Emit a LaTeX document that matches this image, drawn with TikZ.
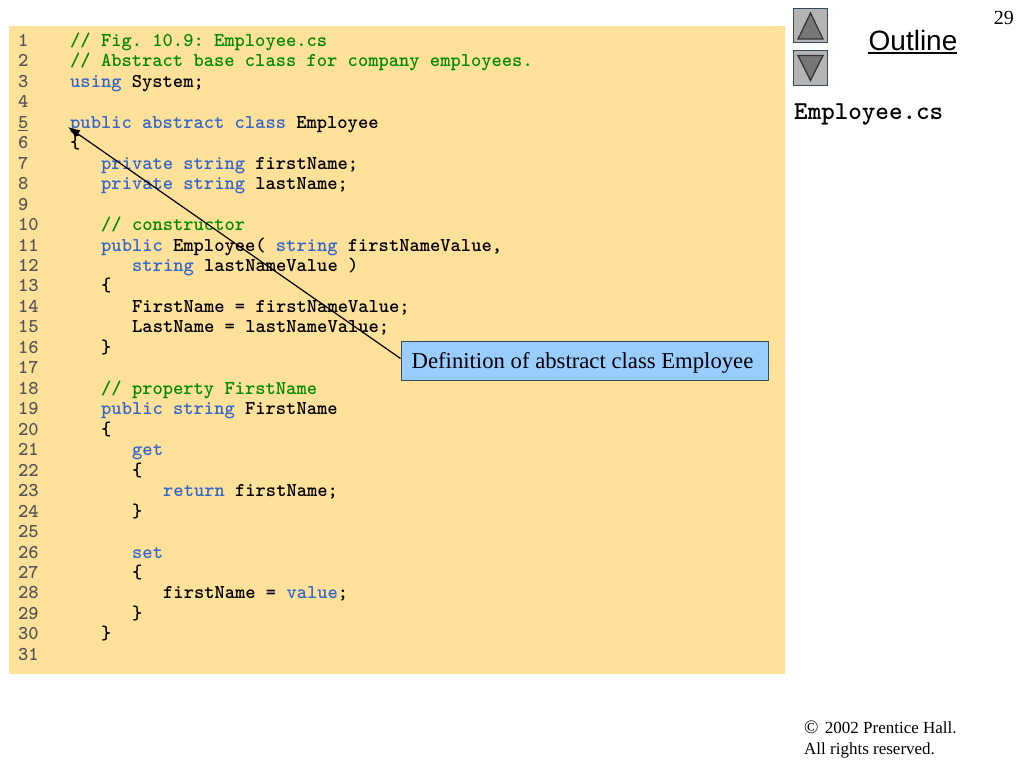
\documentclass[tikz,border=0pt]{standalone}
\usepackage{fontspec}
\usetikzlibrary{arrows.meta}
\setmainfont{Liberation Serif}
\setsansfont{Liberation Sans}
\definecolor{panel}{HTML}{FFE199}
\definecolor{kw}{HTML}{3366CC}
\definecolor{cm}{HTML}{008A00}
\definecolor{num}{HTML}{555555}
\definecolor{call}{HTML}{99CCFF}
\definecolor{btn}{HTML}{B4B4B4}
\definecolor{tri}{HTML}{777777}
\definecolor{edge}{HTML}{3A4A5A}
\newcommand{\K}[1]{\textcolor{kw}{#1}}
\newcommand{\C}[1]{\textcolor{cm}{#1}}
\tikzset{
  x=1pt,y=-1pt,
  code/.style={anchor=base west,inner sep=0pt,font=\fontsize{19.58pt}{20pt}\ttfamily\bfseries,text=black},
  lnum/.style={anchor=base west,inner sep=0pt,font=\fontsize{19.58pt}{20pt}\ttfamily\bfseries,text=num},
  button/.style={fill=btn,draw=edge,line width=1pt},
  triangle/.style={fill=tri,draw=black!80,line width=1.2pt},
  callout/.style={fill=call,draw=edge,line width=1pt,minimum width=367pt,minimum height=39pt,inner sep=0pt,font=\fontsize{22.7pt}{26pt}\selectfont},
}
\newcommand{\ly}[1]{46.3+20.47*(#1-1)}
\begin{document}
\frenchspacing
\begin{tikzpicture}
\useasboundingbox (0,0) rectangle (1024,768);
\fill[white] (0,0) rectangle (1024,768);
\fill[panel] (9,26) rectangle (785,674);
% line numbers
\foreach \n in {1,2,3,4,6,7,8,9,10,11,12,13,14,15,16,17,18,19,20,21,22,23,24,25,26,27,28,29,30,31}{
  \node[lnum] (n\n) at (18,{\ly{\n}}) {\n};
}
\node[lnum] (n5) at (18,{\ly{5}}) {\underline{5}};
% code
\node[code] (c1) at (70,{\ly{1}}) {\C{// Fig. 10.9: Employee.cs}};
\node[code] (c2) at (70,{\ly{2}}) {\C{// Abstract base class for company employees.}};
\node[code] (c3) at (70,{\ly{3}}) {\K{using} System;};
\node[code] (c5) at (70,{\ly{5}}) {\K{public abstract class} Employee};
\node[code] (c6) at (70,{\ly{6}}) {\{};
\node[code] (c7) at (101,{\ly{7}}) {\K{private string} firstName;};
\node[code] (c8) at (101,{\ly{8}}) {\K{private string} lastName;};
\node[code] (c10) at (101,{\ly{10}}) {\C{// constructor}};
\node[code] (c11) at (101,{\ly{11}}) {\K{public} Employee( \K{string} firstNameValue,};
\node[code] (c12) at (132,{\ly{12}}) {\K{string} lastNameValue )};
\node[code] (c13) at (101,{\ly{13}}) {\{};
\node[code] (c14) at (132,{\ly{14}}) {FirstName = firstNameValue;};
\node[code] (c15) at (132,{\ly{15}}) {LastName = lastNameValue;};
\node[code] (c16) at (101,{\ly{16}}) {\}};
\node[code] (c18) at (101,{\ly{18}}) {\C{// property FirstName}};
\node[code] (c19) at (101,{\ly{19}}) {\K{public string} FirstName};
\node[code] (c20) at (101,{\ly{20}}) {\{};
\node[code] (c21) at (132,{\ly{21}}) {\K{get}};
\node[code] (c22) at (132,{\ly{22}}) {\{};
\node[code] (c23) at (163,{\ly{23}}) {\K{return} firstName;};
\node[code] (c24) at (132,{\ly{24}}) {\}};
\node[code] (c26) at (132,{\ly{26}}) {\K{set}};
\node[code] (c27) at (132,{\ly{27}}) {\{};
\node[code] (c28) at (163,{\ly{28}}) {firstName = \K{value};};
\node[code] (c29) at (132,{\ly{29}}) {\}};
\node[code] (c30) at (101,{\ly{30}}) {\}};
% callout
\node[callout,text height=20pt,text depth=4pt] (box) at (584.5,360.5) {Definition of abstract class Employee\kern4pt\relax};
\coordinate (tip) at (68,127);
\draw[line width=1.2pt,-{Latex[length=12pt,width=9pt]}] (box.west) ++(0,-2) -- (tip);
% buttons
\draw[button] (793.5,8.5) rectangle (827.5,42.5);
\draw[triangle] (810.5,13) -- (823,39) -- (798,39) -- cycle;
\draw[button] (793.5,51) rectangle (827.5,85);
\draw[triangle] (810.5,80.5) -- (823,55.5) -- (798,55.5) -- cycle;
% side text
\node[anchor=base,inner sep=0pt,font=\fontsize{28pt}{30pt}\sffamily] (outline) at (913,50) {Outline};
\draw[line width=1.5pt] (outline.base west) ++(0,3) -- ++(89,0);
\node[anchor=base east,inner sep=0pt,font=\fontsize{20pt}{22pt}\selectfont] (page) at (1014,25) {29};
\node[anchor=base west,inner sep=0pt,font=\fontsize{25.8pt}{24pt}\ttfamily\bfseries] (file) at (794,119) {Employee.cs};
\node[anchor=base west,inner sep=0pt,font=\fontsize{17pt}{20pt}\selectfont] (copy1) at (804,733) {{\fontsize{19pt}{20pt}\selectfont ©}\hspace{2pt} 2002 Prentice Hall.};
\node[anchor=base west,inner sep=0pt,font=\fontsize{17pt}{20pt}\selectfont] (copy2) at (804,754) {All rights reserved.};
\end{tikzpicture}
\end{document}
